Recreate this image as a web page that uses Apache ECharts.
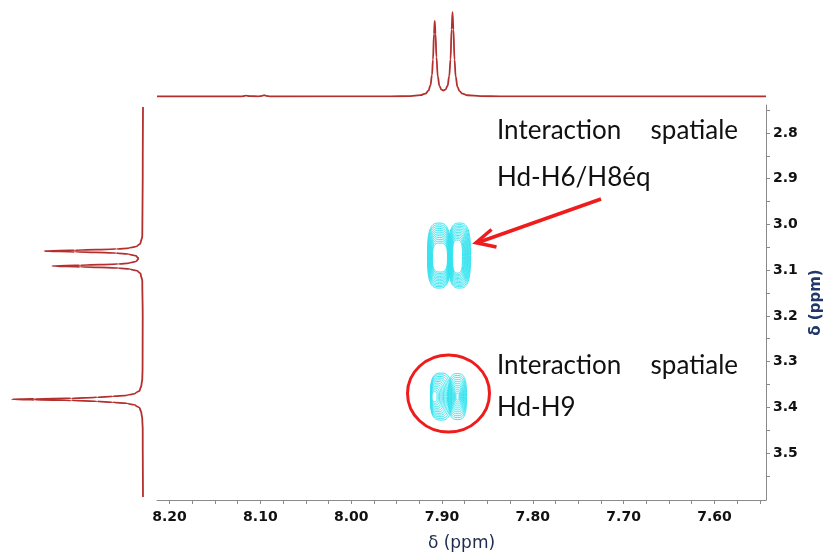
<!DOCTYPE html>
<html><head><meta charset="utf-8">
<script src="https://cdn.jsdelivr.net/npm/echarts@6/dist/echarts.min.js"></script>
<style>html,body{margin:0;padding:0;background:#fff}#c{width:826px;height:553px}</style>
</head><body><div id="c"></div>
<script>
// ---- axis ticks / labels ----
const xLabelValues = [8.2, 8.1, 8.0, 7.9, 7.8, 7.7, 7.6];
const xTickValues = [8.2, 8.175, 8.15, 8.125, 8.1, 8.075, 8.05, 8.025, 8.0, 7.975, 7.95, 7.925, 7.9, 7.875, 7.85, 7.825, 7.8, 7.775, 7.75, 7.725, 7.7, 7.675, 7.65, 7.625, 7.6, 7.575, 7.55];
const yLabelValues = [2.8, 2.9, 3.0, 3.1, 3.2, 3.3, 3.4, 3.5];
const yTickValues = [2.75, 2.8, 2.85, 2.9, 2.95, 3.0, 3.05, 3.1, 3.15, 3.2, 3.25, 3.3, 3.35, 3.4, 3.45, 3.5, 3.55];
const xRange = [7.5432, 8.2138];
const yRange = [2.7387, 3.6028];

// ---- top 1D projection: [ppm, intensity] ----
const topTrace = [
  [8.2138, 0], [8.1222, 0], [8.1178, 0.5], [8.1156, 1.0], [8.1134, 0.5], [8.1112, 0.3], [8.1024, 0.2],
  [8.0980, 0.6], [8.0958, 1.3], [8.0936, 0.6], [8.0892, 0],
  [7.9568, 0.1], [7.9348, 0.4], [7.9237, 1.4], [7.9182, 3.0], [7.9149, 6.0], [7.9127, 11.6], [7.9110, 22.4],
  [7.9099, 38.3], [7.9088, 64.8], [7.9080, 78.3], [7.9071, 65], [7.9061, 40.8], [7.9046, 20.7],
  [7.9028, 11], [7.9006, 7.1], [7.8984, 6.2], [7.8962, 7.1], [7.8939, 10.9], [7.8920, 21.1],
  [7.8906, 38.5], [7.8894, 69.5], [7.8884, 87.5], [7.8874, 69.4], [7.8862, 38.2], [7.8849, 20.5],
  [7.8829, 10], [7.8807, 5.5], [7.8774, 2.9], [7.8719, 1.3], [7.8576, 0.4], [7.8355, 0.15], [7.5432, 0]
];

// ---- left 1D projection: [intensity, ppm] ----
const leftTrace = [
  [0, 2.7431], [0.2, 2.9], [0.5, 3.0254], [1.7, 3.0407], [3.9, 3.0473], [9.6, 3.0516], [18.4, 3.0538],
  [47.7, 3.0565], [68.8, 3.0582], [47.7, 3.0600], [18.6, 3.0626], [10, 3.0648], [4.6, 3.0691],
  [3.3, 3.0746], [4.4, 3.0801], [9.4, 3.0845], [17.2, 3.0867], [44, 3.0893], [63.4, 3.0910],
  [44, 3.0928], [17, 3.0954], [9, 3.0976], [3.7, 3.1020], [1.6, 3.1085], [0.5, 3.1239], [0.2, 3.2],
  [0.3, 3.3164], [0.5, 3.3383], [1.1, 3.3514], [2.2, 3.3628], [5.2, 3.3693], [10.9, 3.3737],
  [21.3, 3.3759], [32, 3.3781], [50.2, 3.3803], [75.9, 3.3814], [91.6, 3.3825], [75.9, 3.3836],
  [50.2, 3.3847], [32, 3.3869], [21.3, 3.3891], [10.9, 3.3912], [5.2, 3.3956], [2.2, 3.4022],
  [1.1, 3.4127], [0.5, 3.4258], [0.2, 3.4477], [0, 3.5965]
];

// ---- 2D contour rings: [centre ppm x, centre ppm y, half-width ppm x, half-width ppm y] ----
const contoursUpperLeft = [
  [7.9033, 3.0681, 0.01268, 0.0711], [7.9032, 3.0685, 0.01228, 0.0675], [7.9031, 3.0689, 0.01188, 0.0640],
  [7.9030, 3.0693, 0.01148, 0.0604], [7.9029, 3.0697, 0.01108, 0.0568], [7.9028, 3.0700, 0.01068, 0.0532],
  [7.9027, 3.0704, 0.01028, 0.0496], [7.9026, 3.0708, 0.00987, 0.0461], [7.9025, 3.0712, 0.00947, 0.0425],
  [7.9024, 3.0716, 0.00907, 0.0389], [7.9023, 3.0720, 0.00867, 0.0353], [7.9022, 3.0724, 0.00827, 0.0317]
];
const contoursUpperRight = [
  [7.8807, 3.0681, 0.0121, 0.0711], [7.8809, 3.0683, 0.0115, 0.0679], [7.8811, 3.0685, 0.0109, 0.0647],
  [7.8813, 3.0687, 0.0103, 0.0616], [7.8815, 3.0689, 0.0097, 0.0584], [7.8817, 3.0691, 0.0091, 0.0552],
  [7.8819, 3.0693, 0.0085, 0.0520], [7.8821, 3.0695, 0.0079, 0.0488], [7.8823, 3.0697, 0.0073, 0.0457],
  [7.8825, 3.0699, 0.0067, 0.0425], [7.8827, 3.0701, 0.0061, 0.0393], [7.8829, 3.0703, 0.0055, 0.0361]
];
const contoursLowerLeft = [
  [7.9011, 3.3766, 0.0116, 0.0514], [7.9018, 3.3766, 0.0108, 0.0477], [7.9024, 3.3766, 0.0100, 0.0440],
  [7.9031, 3.3766, 0.0092, 0.0404], [7.9037, 3.3766, 0.0084, 0.0367], [7.9044, 3.3766, 0.0076, 0.0330],
  [7.9050, 3.3766, 0.0068, 0.0293], [7.9057, 3.3766, 0.0060, 0.0256], [7.9063, 3.3766, 0.0052, 0.0220],
  [7.9070, 3.3766, 0.0044, 0.0183], [7.9076, 3.3766, 0.0036, 0.0146], [7.9083, 3.3766, 0.0028, 0.0109]
];
const contoursLowerRight = [
  [7.8829, 3.3766, 0.0099, 0.0503], [7.8829, 3.3766, 0.0091, 0.0460], [7.8829, 3.3766, 0.0083, 0.0418],
  [7.8829, 3.3766, 0.0075, 0.0375], [7.8829, 3.3766, 0.0066, 0.0333], [7.8829, 3.3766, 0.0058, 0.0290],
  [7.8829, 3.3766, 0.0050, 0.0247], [7.8829, 3.3766, 0.0042, 0.0205], [7.8829, 3.3766, 0.0034, 0.0162],
  [7.8829, 3.3766, 0.0025, 0.0120], [7.8829, 3.3766, 0.0017, 0.0077]
];

const traceColor = '#b3302f';
const contourColor = '#33e4f0';
const labelFont = 'DejaVu Sans';
const noteFont = '26px Lato';

function renderRing(params, api) {
  const cx = api.value(0), cy = api.value(1), rx = api.value(2), ry = api.value(3);
  const pts = [];
  const n = 80, p = 2 / 3;
  for (let i = 0; i < n; i++) {
    const t = i / n * 2 * Math.PI;
    const c = Math.cos(t), s = Math.sin(t);
    const x = cx + rx * Math.sign(c) * Math.pow(Math.abs(c), p);
    const y = cy + ry * Math.sign(s) * Math.pow(Math.abs(s), p);
    pts.push(api.coord([x, y]));
  }
  return { type: 'polygon', shape: { points: pts }, style: { fill: 'none', stroke: contourColor, lineWidth: 1 } };
}

const chart = echarts.init(document.getElementById('c'), null, { renderer: 'canvas' });
const allContours = contoursUpperLeft.concat(contoursUpperRight, contoursLowerLeft, contoursLowerRight);

const option = {
  backgroundColor: '#ffffff',
  animation: false,
  grid: [
    { left: 157, right: 60, top: 105, bottom: 53, outerBoundsMode: 'none', containLabel: false },   // main 2D
    { left: 157, right: 60, top: 0, height: 96.5, outerBoundsMode: 'none', containLabel: false },   // top projection
    { left: 0, width: 143, top: 105, bottom: 53, outerBoundsMode: 'none', containLabel: false }     // left projection
  ],
  xAxis: [
    {
      gridIndex: 0, type: 'value', inverse: true, min: xRange[0], max: xRange[1],
      name: 'δ (ppm)', nameLocation: 'middle', nameGap: 35,
      nameTextStyle: { fontFamily: labelFont, fontSize: 17, color: '#1d2b4c' },
      axisLine: { show: true, onZero: false, lineStyle: { color: '#8a8a8a', width: 1 } },
      axisTick: { show: true, length: 4, customValues: xTickValues, lineStyle: { color: '#8a8a8a' } },
      axisLabel: { customValues: xLabelValues, margin: 10, fontFamily: labelFont, fontWeight: 'bold', fontSize: 14, color: '#111',
        formatter: v => v.toFixed(2) },
      splitLine: { show: false }
    },
    { gridIndex: 1, type: 'value', inverse: true, min: xRange[0], max: xRange[1], show: false },
    { gridIndex: 2, type: 'value', inverse: true, min: 0, max: 100, show: false }
  ],
  yAxis: [
    {
      gridIndex: 0, type: 'value', inverse: true, position: 'right', min: yRange[0], max: yRange[1],
      name: 'δ (ppm)', nameLocation: 'middle', nameGap: 42, nameRotate: 90,
      nameTextStyle: { fontFamily: labelFont, fontSize: 15, fontWeight: 'bold', color: '#22386a' },
      axisLine: { show: true, onZero: false, lineStyle: { color: '#8a8a8a', width: 1 } },
      axisTick: { show: true, length: 4, customValues: yTickValues, lineStyle: { color: '#8a8a8a' } },
      axisLabel: { customValues: yLabelValues, margin: 7, fontFamily: labelFont, fontWeight: 'bold', fontSize: 14, color: '#111',
        formatter: v => v.toFixed(1) },
      splitLine: { show: false }
    },
    { gridIndex: 1, type: 'value', min: 0, max: 100, show: false },
    { gridIndex: 2, type: 'value', inverse: true, min: yRange[0], max: yRange[1], show: false }
  ],
  series: [
    {
      type: 'custom', xAxisIndex: 0, yAxisIndex: 0, renderItem: renderRing,
      encode: { x: 0, y: 1 }, data: allContours, silent: true
    },
    {
      type: 'line', xAxisIndex: 1, yAxisIndex: 1, data: topTrace, showSymbol: false, smooth: 0.4, smoothMonotone: 'x',
      lineStyle: { color: traceColor, width: 1.8 }, silent: true
    },
    {
      type: 'line', xAxisIndex: 2, yAxisIndex: 2, data: leftTrace, showSymbol: false, smooth: 0.4, smoothMonotone: 'y',
      lineStyle: { color: traceColor, width: 1.8 }, silent: true
    }
  ],
  graphic: [
    { type: 'text', left: 497, top: 118, style: { text: 'Interaction', font: noteFont, fill: '#111' } },
    { type: 'text', right: 826 - 738, top: 118, style: { text: 'spatiale', font: noteFont, fill: '#111' } },
    { type: 'text', left: 497, top: 165, style: { text: 'Hd-H6/H8éq', font: noteFont, fill: '#111' } },
    { type: 'text', left: 497, top: 353, style: { text: 'Interaction', font: noteFont, fill: '#111' } },
    { type: 'text', right: 826 - 738, top: 353, style: { text: 'spatiale', font: noteFont, fill: '#111' } },
    { type: 'text', left: 497, top: 395, style: { text: 'Hd-H9', font: noteFont, fill: '#111' } },
    { type: 'line', shape: { x1: 601, y1: 199, x2: 478, y2: 242.5 }, style: { stroke: '#ee1c1c', lineWidth: 3.5 } },
    { type: 'polyline', shape: { points: [[491.5, 229.5], [476, 242.7], [496.5, 247]] }, style: { stroke: '#ee1c1c', lineWidth: 3.5, fill: 'none', lineJoin: 'miter' } },
    { type: 'ellipse', shape: { cx: 448.5, cy: 393.5, rx: 41, ry: 38.5 }, style: { stroke: '#ee1c1c', lineWidth: 3, fill: 'none' } }
  ]
};
chart.setOption(option);
</script>
</body></html>
